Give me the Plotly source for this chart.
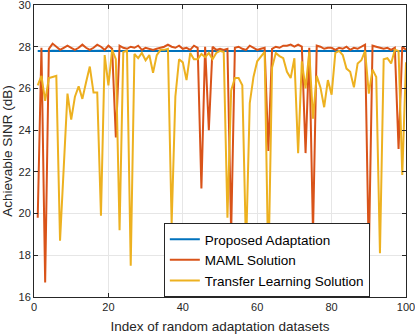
import plotly.graph_objects as go

idx = list(range(1, 101))

proposed = [27.80, 27.79, 27.80, 27.80, 27.81, 27.80, 27.79, 27.80, 27.80, 27.80,
            27.81, 27.80, 27.80, 27.79, 27.80, 27.80, 27.80, 27.81, 27.80, 27.80,
            27.79, 27.80, 27.80, 27.80, 27.81, 27.80, 27.80, 27.79, 27.80, 27.80,
            27.80, 27.81, 27.80, 27.80, 27.79, 27.80, 27.80, 27.80, 27.81, 27.80,
            27.80, 27.79, 27.80, 27.80, 27.80, 27.81, 27.80, 27.80, 27.79, 27.80,
            27.80, 27.80, 27.81, 27.80, 27.80, 27.79, 27.80, 27.80, 27.80, 27.81,
            27.80, 27.80, 27.79, 27.80, 27.80, 27.80, 27.81, 27.80, 27.80, 27.79,
            27.80, 27.80, 27.80, 27.81, 27.80, 27.80, 27.79, 27.80, 27.80, 27.80,
            27.81, 27.80, 27.80, 27.79, 27.80, 27.80, 27.80, 27.81, 27.80, 27.80,
            27.79, 27.80, 27.80, 27.80, 27.81, 27.80, 27.80, 27.79, 27.80, 27.80]

maml = [19.80, 27.95, 16.70, 27.90, 28.15, 28.00, 27.85, 27.95, 28.05, 27.95,
        27.85, 27.95, 28.10, 27.95, 27.85, 27.95, 28.10, 28.00, 27.85, 28.05,
        27.90, 23.65, 28.05, 27.95, 27.90, 28.00, 27.95, 28.05, 27.85, 27.95,
        27.90, 27.85, 27.90, 27.95, 28.00, 28.10, 28.00, 27.95, 28.05, 27.90,
        27.95, 27.85, 28.05, 27.95, 21.20, 28.00, 24.00, 28.00, 27.85, 27.90,
        27.85, 27.90, 19.05, 27.95, 28.00, 27.90, 27.85, 28.05, 27.95, 27.85,
        27.90, 27.95, 23.00, 27.90, 28.00, 27.95, 28.05, 28.05, 28.10, 28.00,
        28.10, 28.00, 22.90, 27.95, 19.05, 28.05, 28.00, 27.90, 27.95, 27.95,
        27.85, 27.95, 27.90, 28.00, 27.85, 27.95, 27.90, 28.00, 28.10, 17.90,
        28.05, 28.00, 27.95, 27.90, 27.95, 27.85, 27.95, 23.10, 28.00, 27.85]

transfer = [26.15, 26.60, 25.40, 26.50, 26.55, 26.60, 18.70, 22.20, 25.75, 24.50,
            25.60, 26.10, 25.50, 26.30, 27.05, 25.80, 25.80, 19.90, 27.60, 26.15,
            27.85, 27.40, 19.20, 27.75, 27.80, 17.50, 27.65, 27.45, 27.70, 27.35,
            27.60, 26.75, 27.60, 27.85, 27.85, 27.90, 19.50, 25.60, 27.40, 27.25,
            26.40, 27.70, 27.40, 27.40, 27.65, 27.50, 27.70, 27.40, 27.70, 27.80,
            27.75, 19.80, 25.90, 26.50, 26.50, 26.15, 18.30, 25.30, 26.55, 27.30,
            27.55, 27.75, 17.20, 27.00, 27.70, 27.55, 27.45, 26.80, 26.50, 27.45,
            22.90, 27.30, 26.00, 27.75, 24.55, 26.60, 26.05, 25.10, 26.40, 25.70,
            27.70, 27.80, 27.60, 26.95, 26.80, 26.05, 27.20, 27.35, 27.80, 25.75,
            26.90, 26.55, 18.10, 27.40, 27.45, 27.20, 27.85, 27.80, 21.85, 27.25]

names = ["Proposed Adaptation", "MAML Solution", "Transfer Learning Solution"]
colors = ["#0072BD", "#D95319", "#EDB120"]
x_ticks = [0, 20, 40, 60, 80, 100]
y_ticks = [16, 18, 20, 22, 24, 26, 28, 30]

fig = go.Figure()
for series, name, color in zip([proposed, maml, transfer], names, colors):
    fig.add_trace(go.Scatter(x=idx, y=series, mode="lines", name=name,
                             line=dict(color=color, width=2)))

axis_common = dict(showline=True, linecolor="#262626", linewidth=1, mirror="ticks",
                   ticks="inside", ticklen=4, tickcolor="#262626",
                   showgrid=True, gridcolor="#e6e6e6", gridwidth=1, zeroline=False,
                   ticklabeloverflow="allow",
                   tickfont=dict(family="Liberation Sans, Arial", size=11, color="#262626"))

fig.update_layout(
    width=415, height=336,
    margin=dict(l=34, r=9, t=5, b=39, autoexpand=False),
    paper_bgcolor="white", plot_bgcolor="white",
    font=dict(family="Liberation Sans, Arial", color="#262626"),
    xaxis=dict(range=[0, 100], tickvals=x_ticks,
               title=dict(text="Index of random adaptation datasets", standoff=9,
                          font=dict(size=13.5, color="#262626")),
               **axis_common),
    yaxis=dict(range=[16, 30], tickvals=y_ticks,
               title=dict(text="Achievable SINR (dB)", standoff=2,
                          font=dict(size=13.5, color="#262626")),
               **axis_common),
    legend=dict(x=0.349, y=0.0, xanchor="left", yanchor="bottom",
                bgcolor="white", bordercolor="#262626", borderwidth=1,
                font=dict(size=13.5, color="#000000"),
                tracegroupgap=0, itemwidth=30),
    showlegend=True,
)

fig.write_html("out.html", config={"displayModeBar": False},
               post_script="document.body.style.margin='0';")
